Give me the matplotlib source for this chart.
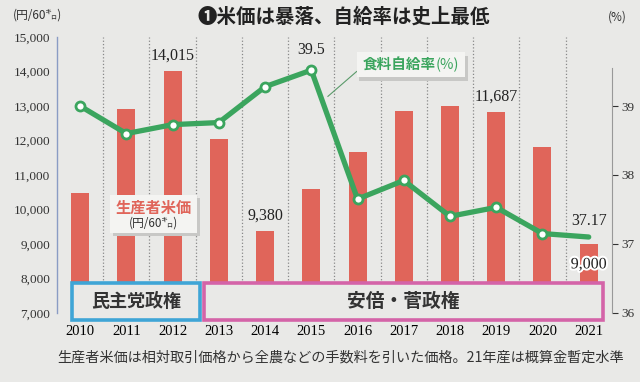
import matplotlib
matplotlib.use("Agg")
import matplotlib.pyplot as plt
import matplotlib.patheffects as pe
from matplotlib.patches import Rectangle
import numpy as np

plt.rcParams['font.family'] = ['Noto Sans CJK JP', 'DejaVu Sans']

# データ
years = ["2010", "2011", "2012", "2013", "2014", "2015",
         "2016", "2017", "2018", "2019", "2020", "2021"]
rice_price = [10480, 12900, 14015, 12050, 9380, 10600,
              11660, 12850, 13000, 12830, 11800, 9000]
self_rate = [39.0, 38.6, 38.73, 38.76, 39.28, 39.52,
             37.65, 37.92, 37.40, 37.53, 37.15, 37.1]
price_labels = {2: "14,015", 4: "9,380", 9: "11,687"}
rate_labels = {5: "39.5", 11: "37.17"}

BG = '#e9e9e7'
RED = '#e0655a'
GREEN = '#3ba55e'
SERIF = 'Liberation Serif'

fig = plt.figure(figsize=(6.4, 3.82), dpi=100)
fig.patch.set_facecolor(BG)
ax = fig.add_axes([0.089, 0.181, 0.867, 0.722])
ax.set_facecolor(BG)
x = np.arange(len(years))

ax.set_xlim(-0.5, 11.5)
ax.set_ylim(7000, 15000)
ax.bar(x, rice_price, width=0.39, color=RED, zorder=2)

# 点線のグリッド
ax.set_xticks(x[:-1] + 0.5, minor=True)
ax.grid(True, which='minor', axis='x', linestyle=':', color='#888888', lw=0.9, zorder=1)
ax.set_xticks(x)
ax.set_xticklabels(years, family=SERIF, fontsize=10.5)
ax.tick_params(axis='x', which='both', length=0, pad=9)
ax.set_yticks(range(7000, 15001, 1000))
ax.set_yticklabels([f"{v:,}" for v in range(7000, 15001, 1000)], family=SERIF, fontsize=9.5)
ax.tick_params(axis='y', length=0, pad=5, colors='#333333')
for s in ['top', 'right', 'bottom']:
    ax.spines[s].set_visible(False)
ax.spines['left'].set_color('#8a9cc4')
ax.spines['left'].set_linewidth(1.0)

# 棒グラフの数値
for i, lab in price_labels.items():
    ax.annotate(lab, (x[i], rice_price[i]), xytext=(0, 5), textcoords='offset points',
                ha='center', va='bottom', family=SERIF, fontsize=11.5, color='#222222', zorder=6)
ax.annotate("9,000", (x[11], rice_price[11]), xytext=(0, -9), textcoords='offset points',
            ha='center', va='top', family=SERIF, fontsize=11.5, color='#222222', zorder=6,
            path_effects=[pe.withStroke(linewidth=3, foreground='white')])

# 政権の枠
ax.add_patch(Rectangle((-0.17, 6800), 2.76, 1070, facecolor=BG, edgecolor='#3fa5d6',
                       lw=2.6, clip_on=False, zorder=5))
ax.add_patch(Rectangle((2.68, 6800), 8.62, 1070, facecolor=BG, edgecolor='#d464a8',
                       lw=2.6, clip_on=False, zorder=5))
ax.text(1.21, 7335, "民主党政権", ha='center', va='center', fontsize=13, weight='bold',
        color='#333333', zorder=6)
ax.text(6.99, 7335, "安倍・菅政権", ha='center', va='center', fontsize=13.5, weight='bold',
        color='#333333', zorder=6)

# 生産者米価ラベル
ax.add_patch(Rectangle((0.71, 9220), 1.88, 1100, facecolor='#c8c8c6', edgecolor='none', zorder=6))
ax.add_patch(Rectangle((0.65, 9320), 1.88, 1100, facecolor='#f4f4f2', edgecolor='none', zorder=7))
ax.text(1.59, 10060, "生産者米価", ha='center', va='center', fontsize=11, weight='bold',
        color=RED, zorder=8)
ax.text(1.59, 9600, "(円/60㌔)", ha='center', va='center', fontsize=8.5, color='#333333', zorder=8)

# 食料自給率（右軸）
ax2 = ax.twinx()
ax2.set_ylim(36, 40)
ax2.plot(x, self_rate, color=GREEN, lw=3.8, solid_capstyle='round', zorder=3)
ax2.plot(x[:-1], self_rate[:-1], 'o', ms=6.5, mfc='white', mec=GREEN, mew=2, zorder=4)
ax2.set_yticks([36, 37, 38, 39])
ax2.set_yticklabels(["36", "37", "38", "39"], family=SERIF, fontsize=9.5)
ax2.tick_params(axis='y', length=4, width=0.8, pad=3, colors='#333333')
for s in ['top', 'left', 'bottom']:
    ax2.spines[s].set_visible(False)
ax2.spines['right'].set_color('#999999')
ax2.spines['right'].set_linewidth(0.8)
ax2.spines['right'].set_bounds(36, 39.55)

for i, lab in rate_labels.items():
    ax2.annotate(lab, (x[i], self_rate[i]), xytext=(0, 9 if i == 5 else 6), textcoords='offset points',
                 ha='center', va='bottom', family=SERIF, fontsize=11.5, color='#222222')

# 食料自給率ラベル
ax2.plot([5.36, 5.98], [39.14, 39.5], color='#5a9a6a', lw=0.8, zorder=5)
ax2.add_patch(Rectangle((6.04, 39.36), 2.34, 0.36, facecolor='#c8c8c6', edgecolor='none', zorder=6))
ax2.add_patch(Rectangle((5.98, 39.42), 2.34, 0.36, facecolor='#f4f4f2', edgecolor='none', zorder=7))
ax2.text(6.9, 39.6, "食料自給率", ha='center', va='center', fontsize=10.5, weight='bold',
         color=GREEN, zorder=8)
ax2.text(7.95, 39.6, "(%)", ha='center', va='center', fontsize=10.5,
         color=GREEN, zorder=8)

# タイトル・単位・注記
fig.text(0.537, 0.955, "❶米価は暴落、自給率は史上最低", ha='center', va='center',
         fontsize=14, weight='bold', color='#222222')
fig.text(0.02, 0.96, "(円/60㌔)", ha='left', va='center', fontsize=8.5, color='#333333')
fig.text(0.95, 0.955, "(%)", ha='left', va='center', fontsize=8.5, color='#333333')
fig.text(0.09, 0.063, "生産者米価は相対取引価格から全農などの手数料を引いた価格。21年産は概算金暫定水準",
         ha='left', va='center', fontsize=10.2, color='#333333')

fig.savefig("out.png", dpi=100, facecolor=BG)
